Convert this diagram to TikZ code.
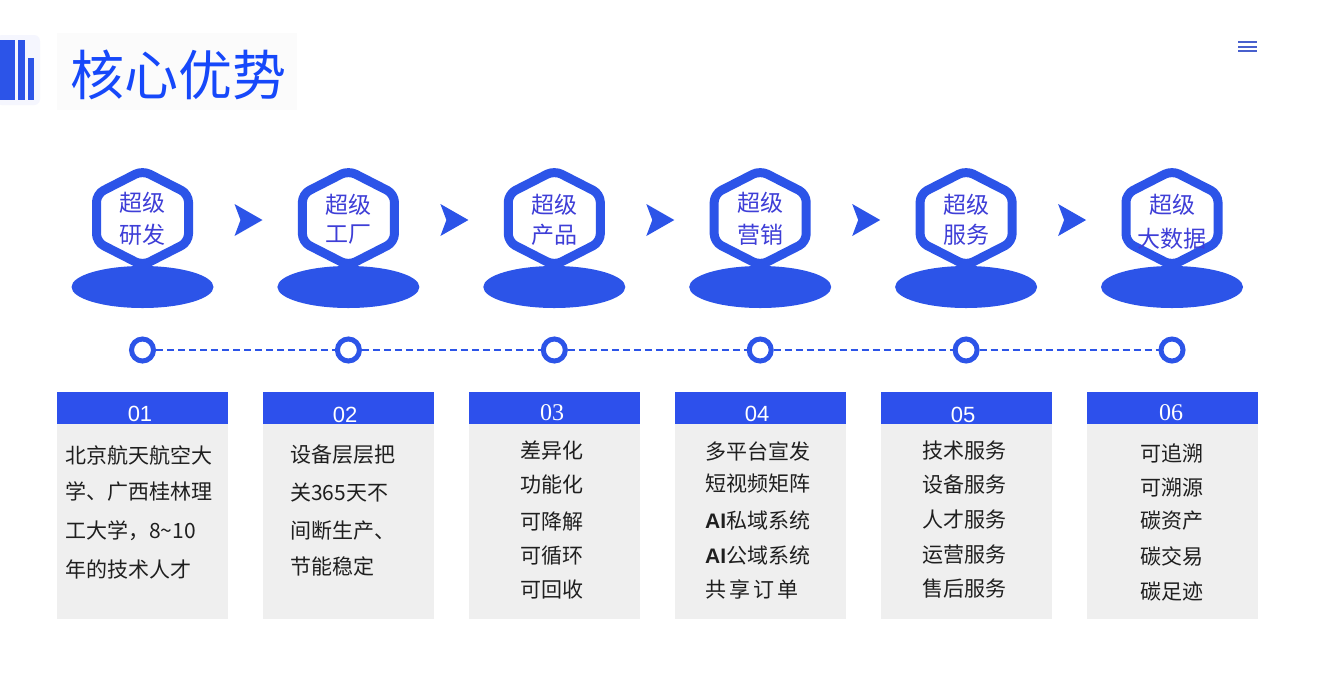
\documentclass[tikz,border=0pt]{standalone}
\usepackage{fontspec}
\setmainfont{Noto Sans CJK SC}
\newfontfamily\lsans{Liberation Sans}
\newfontfamily\lserif{Liberation Serif}
\definecolor{mainblue}{RGB}{44,84,232}
\definecolor{headblue}{RGB}{45,80,236}
\definecolor{hextext}{RGB}{62,62,215}
\definecolor{boxgray}{RGB}{239,239,239}
\definecolor{titleblue}{RGB}{22,72,250}
\definecolor{menublue}{RGB}{72,96,205}
\begin{document}
\begin{tikzpicture}[x=1pt,y=-1pt,
  hexline/.style={draw=mainblue,line width=9pt,fill=white,rounded corners=8pt,line join=round},
  ring/.style={circle,draw=mainblue,line width=5pt,fill=white,minimum size=22pt,inner sep=0pt},
  dashline/.style={mainblue,line width=2.8pt,dash pattern=on 7pt off 4pt},
  hextxt/.style={text=hextext,font=\fontsize{23}{27}\selectfont,inner sep=0pt},
  numtxt/.style={text=white,font=\fontsize{22}{26}\selectfont,inner sep=0pt},
  body/.style={text=black!88,font=\fontsize{21}{25}\selectfont,inner sep=0pt,anchor=west}]
\useasboundingbox (0,0) rectangle (1317,689);
\fill[white] (0,0) rectangle (1317,689);
% title
\fill[black!1.5] (57,33) rectangle (297,110);
\fill[mainblue!5,rounded corners=6pt] (-4,35) rectangle (40,105);
\fill[mainblue] (0,40) rectangle (15,100);
\fill[mainblue] (18,40) rectangle (25,100);
\fill[mainblue] (28,58) rectangle (34,100);
\node[text=titleblue,font=\fontsize{54}{60}\selectfont,inner sep=0pt,anchor=west] (title) at (70,75) {核心优势};
% menu icon
\draw[menublue,line width=2pt] (1238,42) -- (1257,42) (1238,46.5) -- (1257,46.5) (1238,51) -- (1257,51);
% columns
\foreach \i in {0,...,5} {
  \pgfmathsetmacro\cx{142.5+205.9*\i}
  \draw[hexline] (\cx,170.5) -- (\cx+46,194) -- (\cx+46,242) -- (\cx,265.5) -- (\cx-46,242) -- (\cx-46,194) -- cycle;
  \fill[mainblue] (\cx,287) ellipse [x radius=71, y radius=21];
  \node[ring] (c\i) at (\cx,350) {};
  \fill[boxgray] (\cx-85.5,424) rectangle (\cx+85.5,619);
  \fill[headblue] (\cx-85.5,392) rectangle (\cx+85.5,424);
}
\foreach \i in {0,...,4} {
  \pgfmathsetmacro\cx{142.5+205.9*\i}
  \fill[mainblue] (\cx+92,204) -- (\cx+120,220) -- (\cx+92,236) -- (\cx+98,220) -- cycle;
}
\foreach \i/\j in {0/1,1/2,2/3,3/4,4/5} \draw[dashline] (c\i) -- (c\j);
% hex texts
\node[hextxt] (h1a) at (142.5,203) {超级};
\node[hextxt] (h1b) at (142.5,235) {研发};
\node[hextxt] (h2a) at (348.4,205) {超级};
\node[hextxt] (h2b) at (348.4,235) {工厂};
\node[hextxt] (h3a) at (554.3,205) {超级};
\node[hextxt] (h3b) at (554.3,235) {产品};
\node[hextxt] (h4a) at (760.2,203) {超级};
\node[hextxt] (h4b) at (760.2,235) {营销};
\node[hextxt] (h5a) at (966.1,205) {超级};
\node[hextxt] (h5b) at (966.1,235) {服务};
\node[hextxt] (h6a) at (1172,205) {超级};
\node[hextxt] (h6b) at (1172,239) {大数据};
% header numbers
\node[numtxt,font=\lsans\fontsize{22}{26}\selectfont] (n1) at (140,414) {01};
\node[numtxt,font=\lsans\fontsize{22}{26}\selectfont] (n2) at (345,415) {02};
\node[numtxt,font=\lserif\fontsize{24}{28}\selectfont] (n3) at (552,413) {03};
\node[numtxt,font=\lsans\fontsize{22}{26}\selectfont] (n4) at (757,414) {04};
\node[numtxt,font=\lsans\fontsize{22}{26}\selectfont] (n5) at (963,415) {05};
\node[numtxt,font=\lserif\fontsize{24}{28}\selectfont] (n6) at (1171,413) {06};
% body column 1
\node[body] (a1) at (65,455) {北京航天航空大};
\node[body] (a2) at (65,492) {学、广西桂林理};
\node[body] (a3) at (65,531) {工大学，8\textasciitilde10};
\node[body] (a4) at (65,569) {年的技术人才};
% column 2
\node[body] (b1) at (290,455) {设备层层把};
\node[body] (b2) at (290,493) {关365天不};
\node[body] (b3) at (290,531) {间断生产、};
\node[body] (b4) at (290,566) {节能稳定};
% column 3
\node[body] (d1) at (520,451) {差异化};
\node[body] (d2) at (520,484) {功能化};
\node[body] (d3) at (520,522) {可降解};
\node[body] (d4) at (520,556) {可循环};
\node[body] (d5) at (520,590) {可回收};
% column 4
\node[body] (e1) at (705,451) {多平台宣发};
\node[body] (e2) at (705,484) {短视频矩阵};
\node[body] (e3) at (705,520) {{\lsans\bfseries AI}私域系统};
\node[body] (e4) at (705,555) {{\lsans\bfseries AI}公域系统};
\node[body] (e5) at (705,589) {共\hspace{3pt}享\hspace{3pt}订\hspace{3pt}单};
% column 5
\node[body] (f1) at (922,451) {技术服务};
\node[body] (f2) at (922,485) {设备服务};
\node[body] (f3) at (922,520) {人才服务};
\node[body] (f4) at (922,555) {运营服务};
\node[body] (f5) at (922,589) {售后服务};
% column 6
\node[body] (g1) at (1140,453) {可追溯};
\node[body] (g2) at (1140,488) {可溯源};
\node[body] (g3) at (1140,521) {碳资产};
\node[body] (g4) at (1140,556) {碳交易};
\node[body] (g5) at (1140,591) {碳足迹};
\end{tikzpicture}
\end{document}
